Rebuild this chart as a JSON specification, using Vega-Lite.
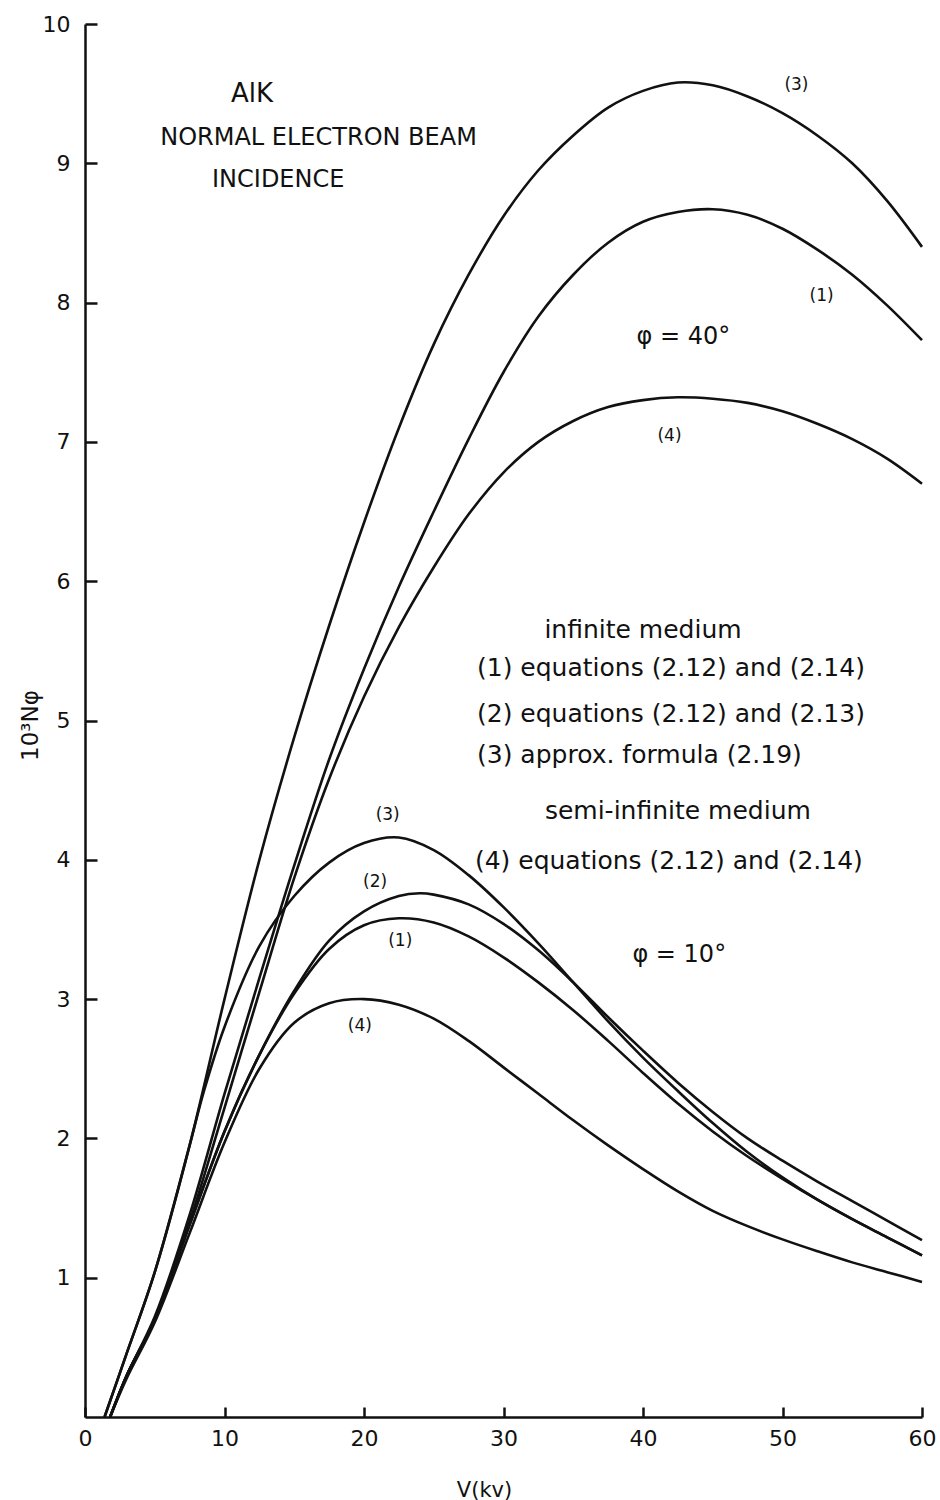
{
  "$schema": "https://vega.github.io/schema/vega-lite/v6.json",
  "width": 837,
  "height": 1393,
  "autosize": {"type": "none"},
  "padding": {"left": 85, "top": 24, "right": 18, "bottom": 83},
  "background": "white",
  "config": {"view": {"stroke": null}, "font": "DejaVu Sans", "text": {"font": "DejaVu Sans", "color": "#111111"}},
  "datasets": {
    "curves": [
      {"curve": "40-3", "x": 1.4, "y": 0}, {"curve": "40-3", "x": 3, "y": 0.46}, {"curve": "40-3", "x": 5, "y": 1.04}, {"curve": "40-3", "x": 7.5, "y": 1.95}, {"curve": "40-3", "x": 10, "y": 3.0}, {"curve": "40-3", "x": 12.5, "y": 4.0}, {"curve": "40-3", "x": 15, "y": 4.88}, {"curve": "40-3", "x": 17.5, "y": 5.68}, {"curve": "40-3", "x": 20, "y": 6.42}, {"curve": "40-3", "x": 22.5, "y": 7.1}, {"curve": "40-3", "x": 25, "y": 7.7}, {"curve": "40-3", "x": 27.5, "y": 8.2}, {"curve": "40-3", "x": 30, "y": 8.62}, {"curve": "40-3", "x": 32.5, "y": 8.95}, {"curve": "40-3", "x": 35, "y": 9.2}, {"curve": "40-3", "x": 37.5, "y": 9.4}, {"curve": "40-3", "x": 40, "y": 9.52}, {"curve": "40-3", "x": 42.5, "y": 9.58}, {"curve": "40-3", "x": 45, "y": 9.56}, {"curve": "40-3", "x": 47.5, "y": 9.48}, {"curve": "40-3", "x": 50, "y": 9.36}, {"curve": "40-3", "x": 52.5, "y": 9.2}, {"curve": "40-3", "x": 55, "y": 9.0}, {"curve": "40-3", "x": 57.5, "y": 8.73}, {"curve": "40-3", "x": 60, "y": 8.4},
      {"curve": "40-1", "x": 1.8, "y": 0}, {"curve": "40-1", "x": 3, "y": 0.3}, {"curve": "40-1", "x": 5, "y": 0.72}, {"curve": "40-1", "x": 7.5, "y": 1.45}, {"curve": "40-1", "x": 10, "y": 2.32}, {"curve": "40-1", "x": 12.5, "y": 3.15}, {"curve": "40-1", "x": 15, "y": 3.96}, {"curve": "40-1", "x": 17.5, "y": 4.72}, {"curve": "40-1", "x": 20, "y": 5.37}, {"curve": "40-1", "x": 22.5, "y": 5.96}, {"curve": "40-1", "x": 25, "y": 6.5}, {"curve": "40-1", "x": 27.5, "y": 7.02}, {"curve": "40-1", "x": 30, "y": 7.5}, {"curve": "40-1", "x": 32.5, "y": 7.9}, {"curve": "40-1", "x": 35, "y": 8.2}, {"curve": "40-1", "x": 37.5, "y": 8.43}, {"curve": "40-1", "x": 40, "y": 8.58}, {"curve": "40-1", "x": 42.5, "y": 8.65}, {"curve": "40-1", "x": 45, "y": 8.67}, {"curve": "40-1", "x": 47.5, "y": 8.63}, {"curve": "40-1", "x": 50, "y": 8.53}, {"curve": "40-1", "x": 52.5, "y": 8.38}, {"curve": "40-1", "x": 55, "y": 8.2}, {"curve": "40-1", "x": 57.5, "y": 7.98}, {"curve": "40-1", "x": 60, "y": 7.73},
      {"curve": "40-4", "x": 1.8, "y": 0}, {"curve": "40-4", "x": 3, "y": 0.3}, {"curve": "40-4", "x": 5, "y": 0.7}, {"curve": "40-4", "x": 7.5, "y": 1.4}, {"curve": "40-4", "x": 10, "y": 2.22}, {"curve": "40-4", "x": 12.5, "y": 3.05}, {"curve": "40-4", "x": 15, "y": 3.87}, {"curve": "40-4", "x": 17.5, "y": 4.58}, {"curve": "40-4", "x": 20, "y": 5.17}, {"curve": "40-4", "x": 22.5, "y": 5.67}, {"curve": "40-4", "x": 25, "y": 6.1}, {"curve": "40-4", "x": 27.5, "y": 6.48}, {"curve": "40-4", "x": 30, "y": 6.78}, {"curve": "40-4", "x": 32.5, "y": 7.0}, {"curve": "40-4", "x": 35, "y": 7.15}, {"curve": "40-4", "x": 37.5, "y": 7.25}, {"curve": "40-4", "x": 40, "y": 7.3}, {"curve": "40-4", "x": 42.5, "y": 7.32}, {"curve": "40-4", "x": 45, "y": 7.31}, {"curve": "40-4", "x": 47.5, "y": 7.28}, {"curve": "40-4", "x": 50, "y": 7.22}, {"curve": "40-4", "x": 52.5, "y": 7.13}, {"curve": "40-4", "x": 55, "y": 7.02}, {"curve": "40-4", "x": 57.5, "y": 6.88}, {"curve": "40-4", "x": 60, "y": 6.7},
      {"curve": "10-3", "x": 1.4, "y": 0}, {"curve": "10-3", "x": 3, "y": 0.46}, {"curve": "10-3", "x": 5, "y": 1.04}, {"curve": "10-3", "x": 7.5, "y": 1.95}, {"curve": "10-3", "x": 8.5, "y": 2.33}, {"curve": "10-3", "x": 10, "y": 2.8}, {"curve": "10-3", "x": 12.5, "y": 3.38}, {"curve": "10-3", "x": 15, "y": 3.74}, {"curve": "10-3", "x": 17.5, "y": 3.98}, {"curve": "10-3", "x": 20, "y": 4.12}, {"curve": "10-3", "x": 22.5, "y": 4.16}, {"curve": "10-3", "x": 25, "y": 4.07}, {"curve": "10-3", "x": 27.5, "y": 3.89}, {"curve": "10-3", "x": 30, "y": 3.66}, {"curve": "10-3", "x": 32.5, "y": 3.4}, {"curve": "10-3", "x": 35, "y": 3.12}, {"curve": "10-3", "x": 37.5, "y": 2.84}, {"curve": "10-3", "x": 40, "y": 2.58}, {"curve": "10-3", "x": 42.5, "y": 2.34}, {"curve": "10-3", "x": 45, "y": 2.11}, {"curve": "10-3", "x": 47.5, "y": 1.9}, {"curve": "10-3", "x": 50, "y": 1.72}, {"curve": "10-3", "x": 52.5, "y": 1.56}, {"curve": "10-3", "x": 55, "y": 1.42}, {"curve": "10-3", "x": 57.5, "y": 1.29}, {"curve": "10-3", "x": 60, "y": 1.16},
      {"curve": "10-2", "x": 1.8, "y": 0}, {"curve": "10-2", "x": 3, "y": 0.3}, {"curve": "10-2", "x": 5, "y": 0.7}, {"curve": "10-2", "x": 7.5, "y": 1.38}, {"curve": "10-2", "x": 10, "y": 2.05}, {"curve": "10-2", "x": 12.5, "y": 2.6}, {"curve": "10-2", "x": 15, "y": 3.06}, {"curve": "10-2", "x": 17.5, "y": 3.42}, {"curve": "10-2", "x": 20, "y": 3.63}, {"curve": "10-2", "x": 22.5, "y": 3.74}, {"curve": "10-2", "x": 24, "y": 3.76}, {"curve": "10-2", "x": 25, "y": 3.75}, {"curve": "10-2", "x": 27.5, "y": 3.68}, {"curve": "10-2", "x": 30, "y": 3.54}, {"curve": "10-2", "x": 32.5, "y": 3.35}, {"curve": "10-2", "x": 35, "y": 3.12}, {"curve": "10-2", "x": 37.5, "y": 2.87}, {"curve": "10-2", "x": 40, "y": 2.63}, {"curve": "10-2", "x": 42.5, "y": 2.4}, {"curve": "10-2", "x": 45, "y": 2.19}, {"curve": "10-2", "x": 47.5, "y": 2.0}, {"curve": "10-2", "x": 50, "y": 1.84}, {"curve": "10-2", "x": 52.5, "y": 1.69}, {"curve": "10-2", "x": 55, "y": 1.55}, {"curve": "10-2", "x": 57.5, "y": 1.41}, {"curve": "10-2", "x": 60, "y": 1.27},
      {"curve": "10-1", "x": 1.8, "y": 0}, {"curve": "10-1", "x": 3, "y": 0.3}, {"curve": "10-1", "x": 5, "y": 0.7}, {"curve": "10-1", "x": 7.5, "y": 1.38}, {"curve": "10-1", "x": 10, "y": 2.05}, {"curve": "10-1", "x": 12.5, "y": 2.6}, {"curve": "10-1", "x": 15, "y": 3.04}, {"curve": "10-1", "x": 17.5, "y": 3.36}, {"curve": "10-1", "x": 20, "y": 3.53}, {"curve": "10-1", "x": 22.5, "y": 3.58}, {"curve": "10-1", "x": 25, "y": 3.55}, {"curve": "10-1", "x": 27.5, "y": 3.45}, {"curve": "10-1", "x": 30, "y": 3.3}, {"curve": "10-1", "x": 32.5, "y": 3.12}, {"curve": "10-1", "x": 35, "y": 2.92}, {"curve": "10-1", "x": 37.5, "y": 2.7}, {"curve": "10-1", "x": 40, "y": 2.47}, {"curve": "10-1", "x": 42.5, "y": 2.25}, {"curve": "10-1", "x": 45, "y": 2.05}, {"curve": "10-1", "x": 47.5, "y": 1.87}, {"curve": "10-1", "x": 50, "y": 1.71}, {"curve": "10-1", "x": 52.5, "y": 1.56}, {"curve": "10-1", "x": 55, "y": 1.42}, {"curve": "10-1", "x": 57.5, "y": 1.29}, {"curve": "10-1", "x": 60, "y": 1.16},
      {"curve": "10-4", "x": 1.8, "y": 0}, {"curve": "10-4", "x": 3, "y": 0.28}, {"curve": "10-4", "x": 5, "y": 0.68}, {"curve": "10-4", "x": 7.5, "y": 1.32}, {"curve": "10-4", "x": 10, "y": 1.97}, {"curve": "10-4", "x": 12.5, "y": 2.5}, {"curve": "10-4", "x": 15, "y": 2.83}, {"curve": "10-4", "x": 17.5, "y": 2.97}, {"curve": "10-4", "x": 20, "y": 3.0}, {"curve": "10-4", "x": 22.5, "y": 2.96}, {"curve": "10-4", "x": 25, "y": 2.86}, {"curve": "10-4", "x": 27.5, "y": 2.7}, {"curve": "10-4", "x": 30, "y": 2.51}, {"curve": "10-4", "x": 32.5, "y": 2.32}, {"curve": "10-4", "x": 35, "y": 2.13}, {"curve": "10-4", "x": 37.5, "y": 1.95}, {"curve": "10-4", "x": 40, "y": 1.78}, {"curve": "10-4", "x": 42.5, "y": 1.62}, {"curve": "10-4", "x": 45, "y": 1.48}, {"curve": "10-4", "x": 47.5, "y": 1.37}, {"curve": "10-4", "x": 50, "y": 1.275}, {"curve": "10-4", "x": 52.5, "y": 1.19}, {"curve": "10-4", "x": 55, "y": 1.11}, {"curve": "10-4", "x": 57.5, "y": 1.04}, {"curve": "10-4", "x": 60, "y": 0.97}
    ],
    "titleMain": [
      {"label": "AlK", "x": 11.97, "y": 9.5}
    ],
    "titleSub": [
      {"label": "NORMAL ELECTRON BEAM", "x": 16.74, "y": 9.18},
      {"label": "INCIDENCE", "x": 13.85, "y": 8.88}
    ],
    "curveLabels": [
      {"label": "(3)", "x": 51.0, "y": 9.56},
      {"label": "(1)", "x": 52.8, "y": 8.05},
      {"label": "(4)", "x": 41.9, "y": 7.04},
      {"label": "(3)", "x": 21.7, "y": 4.32},
      {"label": "(2)", "x": 20.8, "y": 3.84},
      {"label": "(1)", "x": 22.6, "y": 3.42},
      {"label": "(4)", "x": 19.7, "y": 2.81}
    ],
    "angles": [
      {"label": "φ = 40°", "x": 42.9, "y": 7.75},
      {"label": "φ = 10°", "x": 42.6, "y": 3.32}
    ],
    "legendHeads": [
      {"label": "infinite medium", "x": 40.0, "y": 5.65},
      {"label": "semi-infinite medium", "x": 42.5, "y": 4.35}
    ],
    "legendItems": [
      {"label": "(1) equations (2.12) and (2.14)", "x": 28.1, "y": 5.38},
      {"label": "(2) equations (2.12) and (2.13)", "x": 28.1, "y": 5.05},
      {"label": "(3) approx. formula (2.19)", "x": 28.1, "y": 4.75},
      {"label": "(4) equations (2.12) and (2.14)", "x": 27.95, "y": 3.99}
    ]
  },
  "encoding": {
    "x": {
      "field": "x", "type": "quantitative",
      "scale": {"domain": [0, 60], "nice": false},
      "axis": {
        "title": "V(kv)", "values": [0, 10, 20, 30, 40, 50, 60], "grid": false,
        "tickSize": -10, "tickWidth": 2.5, "tickColor": "#111111",
        "domainColor": "#111111", "domainWidth": 2.5,
        "labelFontSize": 22, "labelColor": "#111111", "labelPadding": 21, "labelFlush": false, "labelOverlap": false,
        "titleFontSize": 21, "titleFontWeight": "normal", "titleColor": "#111111",
        "titleX": 399, "titleY": 73, "titleBaseline": "middle", "titleAlign": "center"
      }
    },
    "y": {
      "field": "y", "type": "quantitative",
      "scale": {"domain": [0, 10], "nice": false},
      "axis": {
        "title": "10³Nφ", "values": [1, 2, 3, 4, 5, 6, 7, 8, 9, 10], "grid": false,
        "tickSize": -12, "tickWidth": 2.5, "tickColor": "#111111",
        "domainColor": "#111111", "domainWidth": 2.5,
        "labelFontSize": 22, "labelColor": "#111111", "labelPadding": 27, "labelFlush": false, "labelOverlap": false,
        "titleFontSize": 23, "titleFontWeight": "normal", "titleColor": "#111111",
        "titleX": -55, "titleY": 701, "titleAngle": -90, "titleBaseline": "middle", "titleAlign": "center"
      }
    }
  },
  "layer": [
    {
      "data": {"name": "curves"},
      "mark": {"type": "line", "interpolate": "catmull-rom", "color": "#111111", "strokeWidth": 2.6},
      "encoding": {"detail": {"field": "curve", "type": "nominal"}}
    },
    {
      "data": {"name": "titleMain"},
      "mark": {"type": "text", "fontSize": 26, "align": "center", "baseline": "middle"},
      "encoding": {"text": {"field": "label"}}
    },
    {
      "data": {"name": "titleSub"},
      "mark": {"type": "text", "fontSize": 24, "align": "center", "baseline": "middle"},
      "encoding": {"text": {"field": "label"}}
    },
    {
      "data": {"name": "curveLabels"},
      "mark": {"type": "text", "fontSize": 17, "align": "center", "baseline": "middle"},
      "encoding": {"text": {"field": "label"}}
    },
    {
      "data": {"name": "angles"},
      "mark": {"type": "text", "fontSize": 24, "align": "center", "baseline": "middle"},
      "encoding": {"text": {"field": "label"}}
    },
    {
      "data": {"name": "legendHeads"},
      "mark": {"type": "text", "fontSize": 25, "align": "center", "baseline": "middle"},
      "encoding": {"text": {"field": "label"}}
    },
    {
      "data": {"name": "legendItems"},
      "mark": {"type": "text", "fontSize": 25, "align": "left", "baseline": "middle"},
      "encoding": {"text": {"field": "label"}}
    }
  ]
}
